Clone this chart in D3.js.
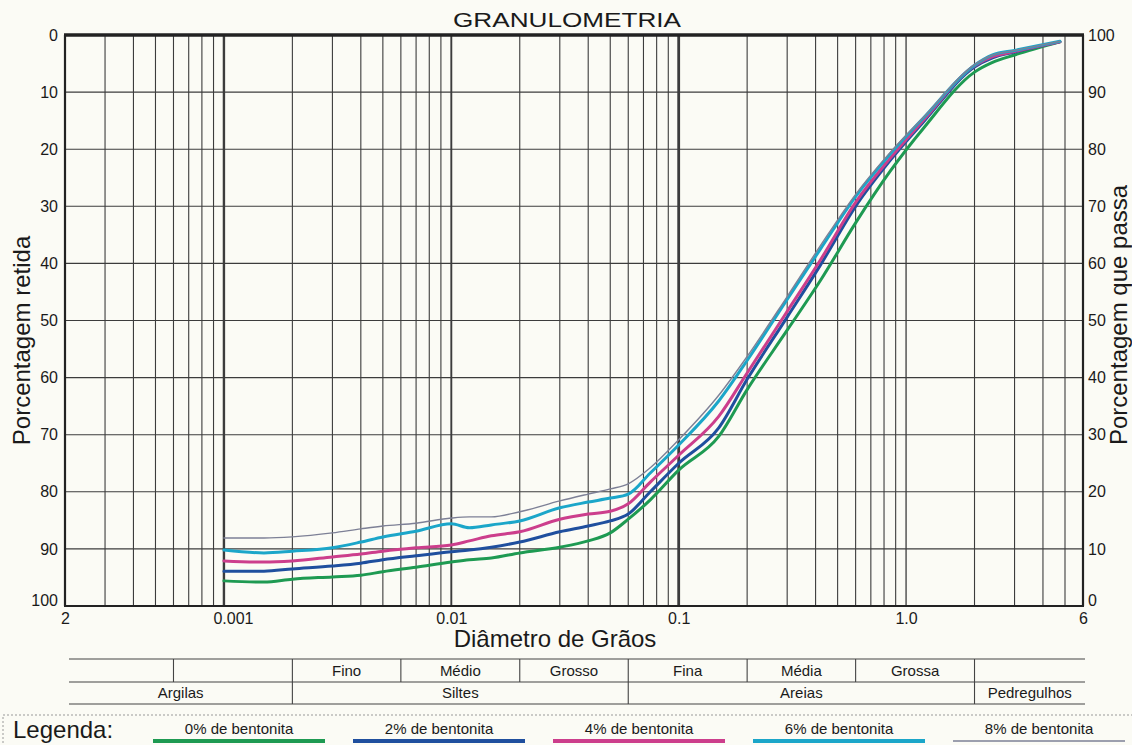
<!DOCTYPE html>
<html lang="pt">
<head>
<meta charset="utf-8">
<title>Granulometria</title>
<script src="https://cdn.jsdelivr.net/npm/d3@7"></script>
<style>
  html, body { margin: 0; padding: 0; background: #fbfbf5; }
  svg { display: block; font-family: "Liberation Sans", Arial, Helvetica, sans-serif; }
</style>
</head>
<body>
<svg id="chart" width="1132" height="745"></svg>
<script>
// Grain diameters (mm) where each curve was measured
const diameters = [0.001, 0.0015, 0.002, 0.003, 0.004, 0.005, 0.007, 0.01, 0.012, 0.015,
                   0.02, 0.03, 0.04, 0.05, 0.06, 0.075, 0.1, 0.15, 0.2, 0.3,
                   0.42, 0.6, 0.85, 1.2, 2.0, 2.4, 3.0, 4.75];

// Percent passing for each bentonite content
const passing0 = [4.4, 4.2, 4.7, 5.1, 5.4, 6.0, 6.8, 7.7, 8.1, 8.4,
                  9.3, 10.3, 11.4, 12.8, 15.2, 18.6, 23.8, 29.7, 37.9, 48.3,
                  57.0, 67.1, 76.1, 83.8, 93.5, 95.2, 96.5, 98.8];
const passing2 = [6.1, 6.1, 6.5, 7.0, 7.5, 8.1, 8.8, 9.5, 9.8, 10.3,
                  11.2, 13.0, 14.0, 14.9, 16.1, 20.0, 25.0, 31.2, 39.7, 50.6,
                  59.7, 70.0, 78.0, 84.9, 94.4, 96.0, 97.0, 98.8];
const passing4 = [7.9, 7.7, 7.9, 8.6, 9.1, 9.6, 10.2, 10.7, 11.4, 12.3,
                  13.0, 15.2, 16.1, 16.6, 17.9, 21.7, 26.4, 33.2, 40.8, 51.6,
                  60.6, 70.7, 78.4, 85.2, 94.6, 96.2, 97.1, 98.8];
const passing6 = [9.8, 9.3, 9.6, 10.2, 11.2, 12.1, 13.1, 14.4, 13.7, 14.2,
                  14.9, 17.2, 18.2, 18.9, 19.6, 23.3, 28.2, 35.9, 43.0, 53.7,
                  62.5, 71.7, 79.1, 85.6, 94.7, 96.5, 97.3, 98.9];
const passing8 = [11.9, 11.9, 12.1, 12.8, 13.5, 14.0, 14.5, 15.4, 15.6, 15.6,
                  16.5, 18.4, 19.6, 20.5, 21.4, 24.2, 29.1, 36.9, 43.7, 54.2,
                  63.1, 72.1, 79.4, 85.7, 94.8, 96.5, 97.3, 98.9];

const seriesNames = ["0% de bentonita", "2% de bentonita", "4% de bentonita",
                     "6% de bentonita", "8% de bentonita"];

// Axis extent and labels
const diameterDomain = [0.0002, 6];
const xTickValues = [0.0002, 0.001, 0.01, 0.1, 1, 6];
const xTickLabels = ["2", "0.001", "0.01", "0.1", "1.0", "6"];
const percentTicks = [0, 10, 20, 30, 40, 50, 60, 70, 80, 90, 100];

// Soil classification bands (mm boundaries)
const fractionBounds = [0.0006, 0.002, 0.006, 0.02, 0.06, 0.2, 0.6, 2.0];
const subLabels = [
  { name: "Fino",   from: 0.002, to: 0.006 },
  { name: "Médio",  from: 0.006, to: 0.02 },
  { name: "Grosso", from: 0.02,  to: 0.06 },
  { name: "Fina",   from: 0.06,  to: 0.2 },
  { name: "Média",  from: 0.2,   to: 0.6 },
  { name: "Grossa", from: 0.6,   to: 2.0 }
];
const mainBounds = [0.002, 0.06, 2.0];
const mainLabels = [
  { name: "Argilas",     from: null,  to: 0.002 },
  { name: "Siltes",      from: 0.002, to: 0.06 },
  { name: "Areias",      from: 0.06,  to: 2.0 },
  { name: "Pedregulhos", from: 2.0,   to: null }
];

// ---- layout ----
const plot = { left: 65, right: 1083, top: 35, bottom: 606 };
const table = { left: 69, right: 1085, y0: 659, y1: 682, y2: 704 };

const svg = d3.select("#chart");

const x = d3.scaleLog().domain(diameterDomain).range([plot.left, plot.right]);
const yRet = d3.scaleLinear().domain([0, 100]).range([plot.top, plot.bottom]);
const yPass = d3.scaleLinear().domain([100, 0]).range([plot.top, plot.bottom]);

const colors = ["#1e9a52", "#1f4f9e", "#cc3e8c", "#1ba6c9", "#7d8096"];
const widths = [3, 3, 3, 3, 1.4];

// ---- grid ----
const gridColor = "#3c3c3c";
const grid = svg.append("g");

const logTicks = x.ticks().filter(v => v > diameterDomain[0] * 1.0001 && v < diameterDomain[1] * 0.9999);
function decadeWidth(v) {
  const l = Math.log10(v);
  if (Math.abs(l - Math.round(l)) > 1e-6) return 1.1;
  const r = Math.round(l);
  if (r === -3) return 2.4;
  if (r === -2) return 1.9;
  if (r === -1) return 2.8;
  return 1.3;
}
grid.selectAll("line.v").data(logTicks).join("line")
  .attr("x1", d => x(d)).attr("x2", d => x(d))
  .attr("y1", plot.top).attr("y2", plot.bottom)
  .attr("stroke", gridColor)
  .attr("stroke-width", d => decadeWidth(d));

grid.selectAll("line.h").data(percentTicks.slice(1, -1)).join("line")
  .attr("x1", plot.left).attr("x2", plot.right)
  .attr("y1", d => yRet(d)).attr("y2", d => yRet(d))
  .attr("stroke", gridColor)
  .attr("stroke-width", 1.1);

// frame
svg.append("line").attr("x1", plot.left - 1).attr("x2", plot.right + 1)
  .attr("y1", plot.top).attr("y2", plot.top)
  .attr("stroke", "#222").attr("stroke-width", 3.5);
svg.append("line").attr("x1", plot.left - 1).attr("x2", plot.right + 1)
  .attr("y1", plot.bottom).attr("y2", plot.bottom)
  .attr("stroke", "#222").attr("stroke-width", 2);
svg.append("line").attr("x1", plot.left).attr("x2", plot.left)
  .attr("y1", plot.top).attr("y2", plot.bottom)
  .attr("stroke", "#222").attr("stroke-width", 2.2);
svg.append("line").attr("x1", plot.right).attr("x2", plot.right)
  .attr("y1", plot.top).attr("y2", plot.bottom)
  .attr("stroke", "#222").attr("stroke-width", 2.2);

// ---- axes ----
const textColor = "#1a1a1a";
const leftAxis = d3.axisLeft(yRet).tickValues(percentTicks).tickSize(0).tickPadding(5);
const rightAxis = d3.axisRight(yPass).tickValues(percentTicks).tickSize(0).tickPadding(4);
const bottomAxis = d3.axisBottom(x).tickValues(xTickValues).tickSize(0).tickPadding(4)
  .tickFormat((d, i) => xTickLabels[i]);

const gL = svg.append("g").attr("transform", `translate(${plot.left - 2},0)`).call(leftAxis);
const gR = svg.append("g").attr("transform", `translate(${plot.right + 1},0)`).call(rightAxis);
const gB = svg.append("g").attr("transform", `translate(0,${plot.bottom + 3})`).call(bottomAxis);
[gL, gR, gB].forEach(g => {
  g.select(".domain").remove();
  g.selectAll("text").attr("font-size", 16).attr("fill", textColor)
    .attr("font-family", "'Liberation Sans', Arial, sans-serif");
});
// end labels sit just above the bottom edge
gL.selectAll(".tick").filter(d => d === 100).select("text").attr("dy", "-0.05em");
gR.selectAll(".tick").filter(d => d === 0).select("text").attr("dy", "-0.05em");
gB.selectAll(".tick").filter(d => d === 0.001).select("text").attr("dx", 9);

// titles
svg.append("text").attr("x", 567).attr("y", 27).attr("text-anchor", "middle")
  .attr("font-size", 21).attr("fill", textColor)
  .attr("textLength", 228).attr("lengthAdjust", "spacingAndGlyphs")
  .text("GRANULOMETRIA");

svg.append("text").attr("x", 555).attr("y", 647).attr("text-anchor", "middle")
  .attr("font-size", 24).attr("fill", textColor).text("Diâmetro de Grãos");

svg.append("text")
  .attr("transform", `translate(30,${(plot.top + plot.bottom) / 2 + 20}) rotate(-90)`)
  .attr("text-anchor", "middle").attr("font-size", 24).attr("fill", textColor)
  .text("Porcentagem retida");

svg.append("text")
  .attr("transform", `translate(1127,315) rotate(-90)`)
  .attr("text-anchor", "middle").attr("font-size", 24).attr("fill", textColor)
  .text("Porcentagem que passa");

// ---- curves ----
const allPassing = [passing0, passing2, passing4, passing6, passing8];
const series = allPassing.map((vals, i) => ({
  name: seriesNames[i],
  color: colors[i],
  width: widths[i],
  points: diameters.map((d, j) => ({ d, p: vals[j] }))
}));

const line = d3.line()
  .x(d => x(d.d))
  .y(d => yPass(d.p))
  .curve(d3.curveMonotoneX);

svg.append("g").selectAll("path").data(series).join("path")
  .attr("d", s => line(s.points))
  .attr("fill", "none")
  .attr("stroke", s => s.color)
  .attr("stroke-width", s => s.width)
  .attr("stroke-linejoin", "round")
  .attr("stroke-linecap", "round");

// ---- classification table ----
const tbl = svg.append("g").attr("stroke", "#444").attr("stroke-width", 1.1);
[table.y0, table.y1, table.y2].forEach(yy => {
  tbl.append("line").attr("x1", table.left).attr("x2", table.right)
    .attr("y1", yy).attr("y2", yy);
});
tbl.selectAll("line.sub").data(fractionBounds).join("line")
  .attr("x1", d => x(d)).attr("x2", d => x(d))
  .attr("y1", table.y0).attr("y2", table.y1);
tbl.selectAll("line.main").data(mainBounds).join("line")
  .attr("x1", d => x(d)).attr("x2", d => x(d))
  .attr("y1", table.y1).attr("y2", table.y2);

const cellX = c => ((c.from == null ? table.left : x(c.from)) + (c.to == null ? table.right : x(c.to))) / 2;
svg.append("g").selectAll("text").data(subLabels).join("text")
  .attr("x", cellX).attr("y", table.y1 - 6)
  .attr("text-anchor", "middle").attr("font-size", 15).attr("fill", textColor)
  .text(c => c.name);
svg.append("g").selectAll("text").data(mainLabels).join("text")
  .attr("x", cellX).attr("y", table.y2 - 6)
  .attr("text-anchor", "middle").attr("font-size", 15).attr("fill", textColor)
  .text(c => c.name);

// ---- legend ----
const legend = svg.append("g");
legend.append("rect").attr("x", 3).attr("y", 715).attr("width", 1160).attr("height", 60)
  .attr("fill", "none").attr("stroke", "#999").attr("stroke-width", 1)
  .attr("stroke-dasharray", "2,2");
legend.append("text").attr("x", 13).attr("y", 738).attr("font-size", 24)
  .attr("fill", textColor).text("Legenda:");

const legendItems = legend.selectAll("g.item").data(series).join("g")
  .attr("transform", (s, i) => `translate(${239 + i * 200},0)`);
legendItems.append("text").attr("x", 0).attr("y", 734).attr("text-anchor", "middle")
  .attr("font-size", 15).attr("fill", textColor).text(s => s.name);
legendItems.append("line").attr("x1", -86).attr("x2", 86).attr("y1", 741).attr("y2", 741)
  .attr("stroke", s => s.color)
  .attr("stroke-width", s => s.width === 3 ? 4 : 1.5);
</script>
</body>
</html>
